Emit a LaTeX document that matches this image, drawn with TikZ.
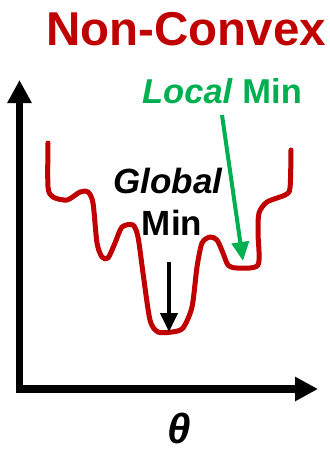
\documentclass[tikz,border=0pt]{standalone}
\usepackage{fontspec}
\setmainfont{Liberation Sans}
\usetikzlibrary{arrows.meta}
\definecolor{darkred}{HTML}{C00000}
\definecolor{mygreen}{HTML}{00B050}
\begin{document}
\begin{tikzpicture}[x=1pt,y=-1pt,
  axis/.style={line width=7.5pt,line join=miter,-{Triangle[length=23pt,width=23pt]}},
  pointer/.style={line width=4pt,-{Triangle[length=19pt,width=17pt]}},
  lbl/.style={anchor=base,inner sep=0pt,font=\bfseries},
  curve/.style={darkred,line width=5pt,line join=round,line cap=round}]
\useasboundingbox (0,0) rectangle (330,451);
\node[lbl,darkred,font=\bfseries\fontsize{47.5}{50}\selectfont] (title) at (186,45) {Non-Convex};
\coordinate (ytop) at (19.5,80);
\coordinate (origin) at (19.5,389);
\coordinate (xend) at (318,389);
\draw[axis] (origin) -- (ytop);
\draw[axis] (origin) -- (xend);
\fill (15.75,385.25) rectangle (23.25,392.75);
\node[lbl,text depth=0pt,font=\bfseries\itshape\fontsize{42}{46}\selectfont] (theta) at (179,443) {θ};
\draw[curve] plot[smooth,tension=0.45] coordinates {
 (48,143) (48,187) (53,197) (67,200) (80,192) (88,192) (93,203) (97,243)
 (102,257) (108,258) (115,243) (122,227) (133,225) (138,237) (143,273)
 (150,320) (158,332) (172,332) (183,328) (192,307) (197,267) (202,243)
 (210,237) (217,240) (223,253) (228,265) (237,268) (258,265) (258,233)
 (259,213) (267,202) (285,195) (290,188) (291,150)};
\node[lbl,mygreen,font=\bfseries\fontsize{34.5}{36}\selectfont] (local) at (222,103) {\textit{Local} Min};
\coordinate (gstart) at (222,115);
\coordinate (gtip) at (243,261);
\draw[pointer,mygreen] (gstart) -- (gtip);
\node[lbl,font=\bfseries\itshape\fontsize{35}{38}\selectfont] (global) at (168,193) {Global};
\node[lbl,font=\bfseries\fontsize{35}{38}\selectfont] (min) at (172,235) {Min};
\coordinate (bstart) at (169,262);
\coordinate (btip) at (169,332);
\draw[pointer] (bstart) -- (btip);
\end{tikzpicture}
\end{document}
